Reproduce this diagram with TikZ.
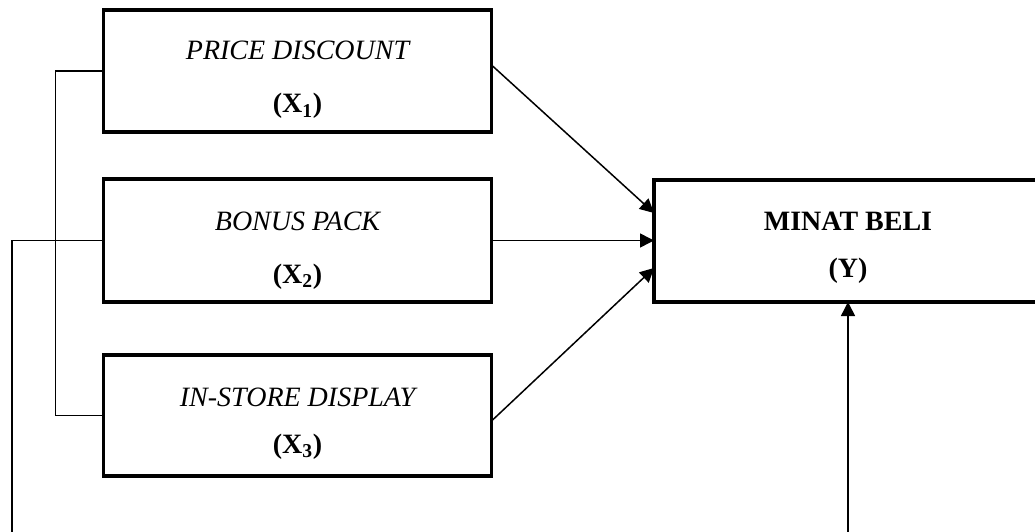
\documentclass[tikz,border=0pt]{standalone}
\usepackage{fontspec}
\setmainfont{Liberation Serif}
\usetikzlibrary{arrows.meta}
\begin{document}
\begin{tikzpicture}[x=1pt,y=-1pt,
  box/.style={draw, rectangle, line width=3.4pt, inner sep=0pt, outer sep=0pt},
  conn/.style={line width=1.5pt},
  arr/.style={conn, -{Triangle[length=14pt,width=14pt]}},
  lbl/.style={anchor=base, inner sep=0pt, font=\fontsize{28}{32}\selectfont},
  ilbl/.style={lbl, font=\fontsize{28}{32}\selectfont\itshape},
  blbl/.style={lbl, font=\fontsize{28}{32}\selectfont\bfseries}]
\useasboundingbox (0,0) rectangle (1035,532);
% boxes
\node[box, minimum width=388pt, minimum height=122pt] (x1) at (297.5,71) {};
\node[box, minimum width=388pt, minimum height=123pt] (x2) at (297.5,240.5) {};
\node[box, minimum width=388pt, minimum height=121pt] (x3) at (297.5,415.5) {};
\node[box, minimum width=388pt, minimum height=122pt] (y) at (848,241) {};
% labels
\node[ilbl] (t1) at (297.5,60) {PRICE DISCOUNT};
\node[blbl] (s1) at (297.5,113) {(X\textsubscript{1})};
\node[ilbl] (t2) at (297.5,230) {BONUS PACK};
\node[blbl] (s2) at (297.5,283) {(X\textsubscript{2})};
\node[ilbl] (t3) at (297.5,406) {IN-STORE DISPLAY};
\node[blbl] (s3) at (297.5,453) {(X\textsubscript{3})};
\node[blbl] (ty) at (848,230) {MINAT BELI};
\node[blbl] (sy) at (848,277) {(Y)};
% connectors
\coordinate (c2) at (12,532);
\coordinate (c3) at (848,532);
\draw[conn] (x1.west) -- ++(-48,0) |- (x3.west);
\draw[conn] (x2.west) -| (c2);
\draw[arr] ([yshift=6pt]x1.east) -- ([yshift=28pt]y.west);
\draw[arr] (x2.east) -- (x2.east -| y.west);
\draw[arr] ([yshift=-5.5pt]x3.east) -- ([yshift=-27pt]y.west);
\draw[arr] (c3) -- (y.south);
\end{tikzpicture}
\end{document}
